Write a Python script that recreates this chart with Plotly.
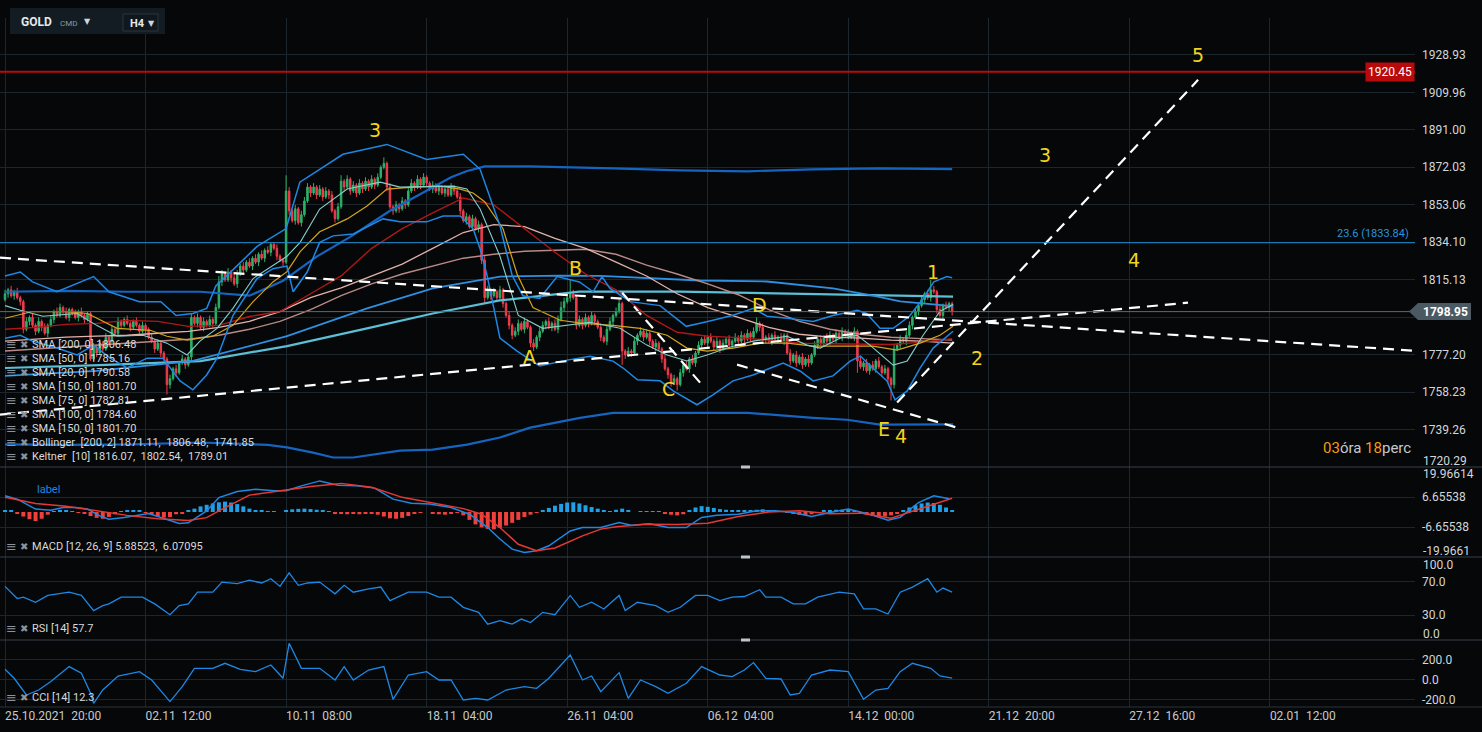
import plotly.graph_objects as go
from plotly.subplots import make_subplots

# ---------------- data ----------------
FIRST_OPEN = 1805
CLOSE = [
    1808, 1810, 1807, 1809, 1806, 1804, 1790, 1794, 1796, 1792,
    1789, 1794, 1791, 1788, 1792, 1795, 1799, 1797, 1801, 1799,
    1796, 1800, 1798, 1796, 1799, 1797, 1795, 1798, 1775, 1781,
    1778, 1783, 1780, 1786, 1784, 1790, 1788, 1794, 1792, 1795,
    1793, 1791, 1794, 1792, 1789, 1792, 1790, 1786, 1784, 1780,
    1783, 1778, 1775, 1762, 1765, 1770, 1768, 1773, 1775, 1772,
    1776, 1796, 1793, 1796, 1791, 1794, 1792, 1795, 1793, 1801,
    1814, 1818, 1815, 1819, 1816, 1813, 1818, 1822, 1820, 1824,
    1822, 1826, 1824, 1828, 1826, 1830, 1829, 1833, 1831, 1827,
    1825, 1824, 1860, 1850, 1845, 1851, 1844, 1848, 1855, 1862,
    1859, 1862, 1858, 1861, 1857, 1860, 1858, 1850, 1846, 1852,
    1865, 1862, 1866, 1860, 1863, 1859, 1864, 1861, 1865, 1862,
    1866, 1863, 1867, 1872, 1874, 1862, 1852, 1850, 1853, 1851,
    1855, 1853, 1860, 1864, 1862, 1866, 1863, 1867, 1864, 1861,
    1863, 1860, 1862, 1859, 1861, 1858, 1862, 1860, 1857, 1850,
    1845, 1847, 1842, 1846, 1841, 1843, 1825, 1806, 1810, 1807,
    1809, 1806, 1810, 1803, 1797, 1792, 1787, 1789, 1793, 1790,
    1794, 1791, 1783, 1781, 1786, 1789, 1792, 1794, 1791, 1793,
    1790, 1795, 1801, 1804, 1806, 1808, 1806, 1792, 1795, 1792,
    1796, 1793, 1797, 1794, 1791, 1786, 1784, 1790, 1794, 1797,
    1799, 1803, 1779, 1777, 1779, 1778, 1784, 1787, 1789, 1786,
    1788, 1784, 1781, 1783, 1780, 1775, 1770, 1767, 1763, 1765,
    1762, 1768, 1772, 1770, 1775, 1773, 1778, 1782, 1785, 1783,
    1786, 1784, 1781, 1784, 1780, 1783, 1785, 1782, 1784, 1786,
    1784, 1787, 1785, 1788, 1786, 1789, 1793, 1791, 1785, 1786,
    1784, 1787, 1785, 1786, 1784, 1787, 1778, 1774, 1777, 1773,
    1776, 1772, 1775, 1773, 1777, 1782, 1785, 1783, 1786, 1784,
    1787, 1785, 1788, 1786, 1789, 1787, 1788, 1786, 1789, 1774,
    1771, 1773, 1769, 1772, 1770, 1774, 1771, 1768, 1770, 1765,
    1762, 1780, 1782, 1785, 1784, 1787, 1792, 1796, 1799, 1802,
    1805, 1808, 1806, 1810, 1809, 1800, 1797, 1802, 1801, 1803,
    1799,
]
WICK_UP = [
    2, 1, 2, 1, 2, 1, 1, 2, 1, 2,  1, 2, 1, 2, 1, 2, 1, 2, 2, 1,
    2, 1, 1, 2, 1, 2, 1, 1, 1, 2,  1, 2, 1, 2, 1, 2, 1, 2, 1, 1,
    2, 1, 1, 2, 1, 2, 1, 1, 2, 1,  2, 1, 1, 1, 2, 1, 2, 1, 2, 1,
    1, 2, 1, 2, 1, 2, 1, 2, 1, 2,  3, 2, 1, 2, 1, 2, 2, 1, 2, 1,
    2, 1, 2, 1, 2, 1, 2, 1, 1, 2,  1, 1, 8, 2, 1, 2, 1, 2, 2, 2,
    1, 2, 1, 2, 1, 2, 1, 2, 1, 2,  3, 1, 2, 1, 2, 1, 2, 1, 2, 1,
    2, 1, 2, 1, 3, 1, 2, 1, 2, 1,  2, 1, 2, 2, 1, 2, 1, 2, 1, 1,
    2, 1, 2, 1, 2, 1, 2, 1, 1, 2,  1, 2, 1, 2, 1, 2, 1, 2, 2, 1,
    2, 1, 2, 1, 1, 2, 1, 2, 2, 1,  2, 1, 1, 2, 1, 2, 2, 1, 2, 1,
    2, 2, 3, 2, 2, 7, 2, 1, 2, 1,  2, 1, 2, 1, 1, 2, 1, 2, 2, 1,
    2, 2, 1, 1, 2, 1, 2, 1, 2, 1,  2, 1, 1, 2, 1, 1, 2, 1, 1, 2,
    1, 2, 1, 2, 1, 2, 1, 2, 1, 2,  1, 2, 1, 2, 1, 2, 1, 2, 1, 2,
    1, 2, 1, 2, 1, 2, 3, 1, 2, 1,  2, 1, 2, 1, 2, 1, 1, 2, 1, 2,
    1, 2, 1, 2, 1, 2, 1, 2, 1, 2,  2, 1, 2, 1, 2, 1, 2, 1, 2, 1,
    2, 1, 2, 1, 2, 1, 2, 1, 2, 1,  1, 2, 1, 2, 1, 2, 2, 1, 2, 1,
    2, 1, 2, 5, 2, 1, 2, 1, 2, 1,  1,
]
WICK_DN = [
    1, 2, 1, 2, 1, 2, 2, 1, 2, 1,  2, 1, 2, 1, 2, 1, 2, 1, 1, 2,
    1, 2, 1, 1, 2, 1, 2, 1, 1, 1,  2, 1, 2, 1, 2, 1, 2, 1, 2, 1,
    1, 2, 1, 1, 2, 1, 2, 1, 1, 2,  1, 2, 1, 5, 2, 1, 2, 1, 1, 2,
    1, 2, 1, 2, 1, 2, 1, 1, 2, 1,  1, 2, 1, 1, 2, 1, 2, 1, 2, 1,
    1, 2, 1, 2, 1, 2, 1, 2, 1, 2,  1, 2, 1, 2, 1, 2, 1, 2, 1, 1,
    2, 1, 2, 1, 2, 1, 2, 1, 2, 1,  1, 2, 1, 2, 1, 2, 1, 2, 1, 2,
    1, 2, 1, 1, 1, 2, 1, 2, 1, 2,  1, 2, 1, 1, 2, 1, 2, 1, 2, 1,
    2, 1, 2, 1, 2, 1, 1, 2, 1, 2,  1, 2, 1, 2, 1, 2, 2, 3, 1, 2,
    1, 2, 1, 2, 1, 2, 2, 1, 2, 1,  2, 1, 2, 2, 1, 2, 1, 2, 1, 2,
    1, 2, 1, 2, 1, 2, 1, 2, 1, 2,  1, 2, 1, 2, 1, 2, 1, 2, 1, 2,
    1, 1, 7, 2, 1, 2, 1, 2, 1, 2,  1, 2, 1, 2, 1, 2, 1, 2, 2, 1,
    3, 1, 2, 1, 2, 1, 2, 1, 2, 1,  2, 1, 2, 1, 2, 1, 2, 1, 2, 1,
    2, 1, 2, 1, 2, 1, 1, 2, 1, 2,  1, 2, 1, 2, 1, 2, 1, 2, 1, 2,
    1, 2, 1, 2, 1, 1, 2, 1, 2, 1,  2, 1, 2, 1, 2, 1, 2, 1, 2, 6,
    1, 2, 1, 2, 1, 2, 1, 2, 1, 2,  8, 2, 1, 2, 1, 2, 1, 2, 1, 2,
    1, 2, 1, 2, 1, 2, 1, 2, 1, 2,  2,
]

X_TICK_POS = [0, 46, 92, 138, 184, 230, 276, 322, 368, 414]
X_TICK_TEXT = ["25.10.2021\u00a0\u00a020:00", "02.11\u00a0\u00a012:00", "10.11\u00a0\u00a008:00",
               "18.11\u00a0\u00a004:00", "26.11\u00a0\u00a004:00", "06.12\u00a0\u00a004:00",
               "14.12\u00a0\u00a000:00", "21.12\u00a0\u00a020:00", "27.12\u00a0\u00a016:00",
               "02.01\u00a0\u00a012:00"]
PRICE_TICKS = [1739.26, 1758.23, 1777.20, 1796.16, 1815.13, 1834.10, 1853.06,
               1872.03, 1891.00, 1909.96, 1928.93]
HIDDEN_PRICE_TICK = 1796.16   # covered by the last-price tag in the reference

# overlay indicator lines (bar index, price)
BBU_X = [0, 20, 40, 64, 80, 91, 102, 113, 126, 137, 146, 151, 157, 172, 188, 199, 221, 243, 264, 286, 310]
BBU_Y = [1809, 1809.5, 1809, 1809, 1807, 1814.6, 1826.8, 1836.8, 1850, 1859.4, 1867, 1870, 1872.5, 1872.5,
         1872, 1871.5, 1870.5, 1870, 1871, 1871.5, 1871.1]
BBL_X = [0, 20, 42, 64, 86, 92.3, 100.8, 107.4, 114, 118.5, 129.3, 140, 151.2, 162, 171.9, 188.2, 199,
         221, 243, 264.5, 275.6, 286.4, 310.3]
BBL_Y = [1731.7, 1731.5, 1731.7, 1732.7, 1731.5, 1730.2, 1727.6, 1725.1, 1725.1, 1726.1, 1728.6, 1729.1,
         1731.6, 1735.2, 1740.2, 1745.2, 1747.7, 1747.7, 1747.7, 1745.2, 1744.2, 1741.7, 1741.85]
SMA200_X = [0, 31, 64, 92.3, 118.5, 140, 162, 188, 221, 254, 286.4, 310.3]
SMA200_Y = [1770.4, 1771.9, 1773.9, 1781.5, 1790.5, 1798, 1804.6, 1809.1, 1809.1, 1808.1, 1807.1, 1806.5]
SMA150_X = [0, 30, 61.5, 92.3, 118.5, 140, 162, 181.7, 194.8, 227.5, 249.4, 271, 284.1, 293, 310.3]
SMA150_Y = [1766.4, 1769, 1774, 1786.5, 1800.6, 1810.7, 1816.7, 1817.2, 1817, 1814.7, 1814.2, 1810.7,
            1807.1, 1804.1, 1801.7]
SMA_STEP_X = list(range(0, 311, 10))
SMA100_Y = [1779, 1780, 1781, 1782, 1783, 1784, 1785, 1787, 1790, 1794, 1800, 1807, 1813, 1818, 1822, 1826,
            1828, 1829.5, 1830, 1830.5, 1828, 1822.5, 1818, 1813, 1807.5, 1800, 1794, 1790, 1787.5, 1786,
            1785.3, 1784.6]
SMA75_Y = [1784, 1785, 1786, 1786.5, 1787, 1788, 1789, 1791, 1794, 1799, 1806, 1811, 1817, 1823, 1831, 1839,
           1843, 1842, 1836, 1831, 1824, 1817, 1808, 1801, 1796, 1791, 1787.5, 1786, 1785.5, 1784.5, 1784,
           1783]
SMA50_Y = [1790, 1791, 1792.5, 1793, 1794.5, 1794, 1791.5, 1792, 1796.5, 1799, 1808, 1817, 1831, 1841, 1849,
           1856.5, 1853, 1841, 1829, 1818, 1810, 1797, 1788.5, 1786.5, 1785.8, 1784.5, 1783, 1782.7, 1782.5,
           1782.3, 1783.5, 1785.2]
SMA20_X = [0, 9, 20, 27, 36.7, 47.5, 53, 59.6, 68, 74.6, 81.2, 87.7, 92.3, 96.6, 103, 112, 118.5, 125, 133.5,
           142.4, 149, 153.2, 157, 163, 167.6, 172.8, 181.7, 189.2, 199, 207.9, 216.7, 223.2, 229.8, 238.3,
           247.1, 256, 264.5, 275.6, 284.1, 292, 299.5, 306, 310.3]
SMA20_Y = [1795.6, 1799, 1799, 1798, 1790.5, 1789.5, 1786.5, 1784.5, 1786.5, 1792, 1804, 1814, 1819.2,
           1829.3, 1839.4, 1845.9, 1852.4, 1861, 1862, 1862.5, 1861, 1859, 1854.6, 1840.9, 1818, 1801,
           1794.6, 1793, 1792, 1790.5, 1787, 1780.5, 1779, 1780.5, 1783, 1783, 1781.5, 1781.5, 1781.5,
           1779.5, 1783, 1787, 1791.5]
KU_X = [0, 5, 9, 17, 29, 34, 44, 51, 56, 61.5, 66, 69, 75, 82.5, 92, 96.5, 103, 110.6, 125, 138, 150, 155.5,
        162, 166, 169.5, 175, 180.7, 188, 192.5, 195.4, 198, 204.6, 214.4, 223, 230, 238, 245, 249.4, 256,
        264.5, 271, 279, 282, 286.4, 290.7, 296, 300.5, 304, 308.3, 310]
KU_Y = [1817, 1819, 1814, 1809, 1816.7, 1809, 1804, 1804, 1797, 1798, 1800.6, 1812, 1820.7, 1832, 1841,
        1864.5, 1871, 1878.6, 1883.6, 1876, 1878.6, 1871, 1842.4, 1817.2, 1807, 1805.6, 1816.7, 1814, 1809,
        1816.7, 1810.7, 1804, 1802, 1791.5, 1794, 1797, 1800.6, 1796.6, 1795.6, 1794, 1797, 1799.6, 1798,
        1790.5, 1790.5, 1796.6, 1805.6, 1814, 1816.7, 1816.07]
KL_X = [0, 5, 9, 17, 23.6, 29, 34.4, 40, 46.5, 51.7, 57.3, 61.5, 66, 69.4, 74.6, 82.5, 87.7, 92.3, 94.3,
        98.9, 103, 107.4, 114, 120.5, 123.7, 129.3, 138, 143.4, 149, 153.2, 155.5, 157.8, 162, 167.6, 175,
        184, 191.5, 199, 202.3, 207, 214.4, 218.7, 226.5, 231.7, 238.3, 244.8, 254.7, 260.2, 264.5, 271,
        276.6, 280, 284, 288.7, 291.3, 295.3, 299.5, 303.8, 310.3]
KL_Y = [1785.5, 1787, 1784, 1780.5, 1777, 1782, 1775.4, 1770.4, 1775.4, 1775.4, 1763.9, 1759.4, 1766.9,
        1775.4, 1797, 1815.7, 1820.7, 1822, 1809, 1819, 1834, 1837.3, 1838.3, 1843.4, 1845.9, 1844.4,
        1844.4, 1847.4, 1847.4, 1840.9, 1830.8, 1817.2, 1785.5, 1779, 1771.4, 1774.4, 1776.4, 1773.9,
        1770.4, 1764.4, 1763.9, 1758.8, 1751.8, 1756.8, 1763.9, 1766.9, 1772.9, 1768.9, 1763.9, 1766.4,
        1773.9, 1776.4, 1770.4, 1763.9, 1754.3, 1758.8, 1770.4, 1780.5, 1789.01]
KM_X = [0, 5, 12.4, 23.6, 30, 36.7, 45.2, 53, 59.6, 63.8, 69.4, 74.6, 81.2, 92.3, 96.6, 103, 112, 122.8,
        129.3, 140, 146.6, 151.2, 155.5, 162, 168, 176, 184, 191.5, 201.3, 210.1, 216.7, 223.2, 229.8,
        236.3, 244.8, 251.4, 256, 262.5, 266.8, 273.3, 278.9, 283.1, 290.7, 295.3, 300.5, 306, 310.3]
KM_Y = [1802, 1799.6, 1796.6, 1798, 1792, 1786.5, 1787, 1783, 1777, 1784, 1790.5, 1800.6, 1815.7, 1827,
        1834, 1850.9, 1861, 1864.5, 1862, 1862.5, 1862.5, 1861, 1850.9, 1827, 1797, 1790.5, 1792, 1793.6,
        1790.5, 1782, 1777, 1774, 1777, 1780.5, 1784, 1785.5, 1786.5, 1782, 1780.5, 1785.5, 1787, 1782,
        1771.9, 1774, 1787, 1799.1, 1802.54]

# drawn analysis lines: (bar index pair, price pair)
TREND_LINES = [
    ([-1.64, 460.9], [1826.25, 1779.2]),
    ([-1.64, 387.2], [1746.8, 1803.5]),
    ([202.0, 227.5], [1808.5, 1763.0]),
    ([239.6, 312.6], [1772.1, 1739.8]),
    ([292.0, 390.5], [1752.9, 1916.3]),
]
WAVE_TEXT = ["3", "A", "B", "C", "D", "E", "4", "1", "2", "3", "4", "5"]
WAVE_X = [121.1, 171.8, 186.6, 217.0, 247.1, 287.7, 293.3, 303.6, 318.2, 340.4, 369.6, 390.5]
WAVE_Y = [1891.0, 1776.2, 1821.2, 1760.0, 1802.5, 1739.3, 1736.2, 1819.2, 1775.7, 1878.4, 1825.2, 1928.9]
RESIST_LEVEL = 1920.45
FIB_LEVEL = 1833.84
LAST_PRICE = 1798.95

# MACD panel
HIST_X = list(range(0, 311, 2))
HIST_V = [0.6, 0.5, -0.8, -2.0, -3.2, -4.0, -3.0, -1.2, 0.3, 0.6, 0.5, 0.3, -0.3, -0.8, -1.8, -2.6, -3.0,
          -2.2, -1.0, 0.2, 0.6, 0.8, 0.5, -0.3, -1.2, -2.0, -2.5, -2.2, -1.0, -0.5, 0.8, 1.5, 2.5, 3.2,
          3.8, 4.3, 4.6, 4.2, 3.5, 2.5, 1.5, 0.8, 0.5, 0.3, 0.2, 0.0, 0.8, 1.2, 1.4, 1.5, 1.3, 1.0, 0.5,
          0.2, -0.6, -0.8, -1.0, -0.8, -1.0, -0.9, -0.8, -1.2, -2.0, -2.8, -3.0, -2.6, -1.8, -0.5, -0.2,
          0.0, -0.5, -1.0, -1.2, -0.8, -0.3, -1.5, -3.5, -5.5, -6.8, -7.5, -7.7, -7.0, -6.0, -4.8, -3.5,
          -2.2, -1.2, -0.4, 0.8, 1.8, 2.8, 3.6, 4.2, 4.3, 3.8, 3.0, 2.2, 1.5, 0.8, 0.3, 1.0, 1.5, 0.6,
          0.0, 0.3, 0.3, 0.3, 0.2, -0.6, -1.2, -1.5, -1.0, 0.5, 2.0, 2.6, 2.3, 1.8, 1.3, 1.0, 0.8, 0.7,
          0.6, 0.7, 1.0, 1.2, 0.8, 0.4, 0.2, -0.3, -0.8, -1.3, -1.5, -1.0, -0.3, 0.5, 0.8, 1.0, 1.0, 0.8,
          0.3, -0.5, -1.2, -1.8, -2.0, -2.0, -1.5, -0.5, 0.8, 2.0, 3.0, 3.8, 4.2, 4.0, 3.2, 2.0, 0.5]
MACD_X = [0, 4, 10, 15, 19, 23, 27, 31, 34, 39, 47, 51, 57, 60, 66, 70, 76, 82, 88, 92, 97, 103, 109, 115,
          121, 127, 133, 139, 146, 152, 158, 162, 166, 170, 174, 178, 185, 189, 195, 201, 205, 211, 217,
          223, 228, 233, 240, 246, 252, 258, 264, 270, 276, 283, 289, 293, 299, 304, 309]
MACD_V = [7.2, 5.7, 1.3, 0.8, 2.0, 2.0, 1.3, -1.7, -3.2, -2.4, -0.7, -2.4, -5.1, -4.8, 0.5, 6.4, 9.1, 10.1,
          9.4, 9.4, 11.6, 13.8, 11.9, 11.6, 10.6, 5.7, 3.9, 3.5, 2.0, -1.0, -6.9, -12.0, -16.5, -18.0,
          -17.2, -15.0, -8.4, -6.9, -6.9, -4.7, -5.9, -5.2, -6.9, -6.9, -2.4, -1.4, -1.0, 0.5, 0.5, -0.2,
          -2.0, -0.2, 1.3, -1.0, -3.6, -2.4, 4.2, 7.2, 5.88]
SIG_X = [0, 10, 20, 30, 40, 50, 60, 66, 70, 80, 90, 100, 110, 120, 130, 140, 150, 156, 162, 168, 174, 180,
         189, 195, 200, 210, 220, 230, 240, 250, 260, 270, 280, 290, 300, 310]
SIG_V = [6.5, 3.8, 2.6, 0.5, -1.5, -3.0, -3.8, -2.5, 0.5, 7.5, 9.3, 11.3, 12.7, 11.0, 6.5, 4.0, 1.5, -1.0,
         -6.9, -14.3, -17.2, -16.0, -10.6, -7.6, -6.5, -5.4, -5.5, -5.0, -2.0, 0.0, 0.6, -0.8, -0.5, -2.8,
         1.5, 6.07]

# RSI panel
RSI_X = [0, 4, 6, 10, 14, 18, 21, 25, 29, 32, 34, 38, 45, 49, 54, 57, 60, 63, 68, 71, 76, 80, 84, 87, 90,
         93, 96, 99, 103, 108, 111, 114, 119, 123, 126, 132, 138, 142, 146, 150, 155, 158, 162, 166, 169,
         172, 176, 180, 185, 188, 192, 196, 201, 203, 207, 213, 217, 221, 226, 230, 234, 238, 242, 247, 249,
         254, 258, 262, 266, 273, 278, 281, 285, 289, 293, 297, 302, 305, 307, 310]
RSI_V = [64.6, 49.9, 51.6, 45.5, 53.7, 55.6, 57.6, 53.7, 35.4, 41.5, 43.5, 51.6, 51.6, 43.5, 30.5, 41.5,
         43.5, 57.6, 57.6, 69.8, 67.9, 72.0, 68.7, 73.9, 64.6, 80.9, 65.9, 68.7, 69.8, 55.6, 65.9, 57.6,
         61.7, 63.8, 47.5, 57.6, 57.6, 51.6, 51.6, 39.4, 33.3, 19.1, 23.2, 19.1, 25.2, 21.1, 33.3, 30.5,
         53.7, 39.4, 45.5, 37.4, 53.7, 35.4, 45.5, 41.5, 33.3, 39.4, 53.7, 53.7, 47.5, 51.6, 52.4, 60.6,
         51.6, 51.6, 43.5, 43.5, 51.6, 57.6, 55.6, 37.4, 37.4, 31.3, 57.6, 63.8, 73.9, 57.6, 62.6, 57.7]

# CCI panel
CCI_X = [0, 3, 7, 11, 15, 21, 25, 28, 29, 32, 37, 44, 48, 54, 58, 62, 68, 72, 77, 82, 87, 91, 93, 97, 103,
         108, 111, 114, 119, 124, 127, 132, 138, 142, 146, 150, 154, 158, 164, 170, 174, 178, 185, 189, 192,
         195, 201, 204, 208, 213, 217, 223, 228, 234, 238, 242, 245, 249, 254, 257, 260, 264, 270, 276, 281,
         285, 289, 293, 297, 303, 306, 310]
CCI_V = [100, 10, -157, -107, -23, 127, 60, -140, -240, -107, 33, 77, -7, -223, -73, 110, 110, 160, 100, 77,
         143, 10, 360, 110, 110, -7, 127, -7, 93, 127, -200, 43, 77, -7, -7, -207, -190, -207, -107, -73,
         -90, 10, 243, -7, 33, -123, 67, -190, -7, -73, -140, -40, 127, 43, 27, 93, 167, 10, 3, -157, -140,
         43, 93, 77, -200, -107, -90, 77, 160, 110, 33, 12.3]

LEGEND_LINES = ["SMA [200, 0] 1806.48", "SMA [50, 0] 1785.16", "SMA [20, 0] 1790.58",
                "SMA [150, 0] 1801.70", "SMA [75, 0] 1782.81", "SMA [100, 0] 1784.60",
                "SMA [150, 0] 1801.70",
                "Bollinger\u00a0\u00a0[200, 2] 1871.11,\u00a0\u00a01806.48,\u00a0\u00a01741.85",
                "Keltner\u00a0\u00a0[10] 1816.07,\u00a0\u00a01802.54,\u00a0\u00a01789.01"]
PANEL_LABELS = ["MACD [12, 26, 9] 5.88523,\u00a0\u00a06.07095", "RSI [14] 57.7", "CCI [14] 12.3"]

# ---------------- derived candle fields ----------------
BAR_INDEX = list(range(len(CLOSE)))
OPEN = [FIRST_OPEN] + CLOSE[:-1]
HIGH = [max(o, c) + w for o, c, w in zip(OPEN, CLOSE, WICK_UP)]
LOW = [min(o, c) - w for o, c, w in zip(OPEN, CLOSE, WICK_DN)]

# ---------------- layout geometry ----------------
W, H = 1482, 732
ML, MR, MT, MB = 0, 67, 18, 25
PW, PH = W - ML - MR, H - MT - MB


def fx(px):
    return (px - ML) / PW


def fy(py):
    return (MT + PH - py) / PH


DOM_MAIN = [fy(467), 1.0]
DOM_MACD = [fy(557), fy(467)]
DOM_RSI = [fy(640), fy(557)]
DOM_CCI = [0.0, fy(640)]
X_RANGE = [-1.64, 461.5]
MAIN_RANGE = [1720.29, 1947.6]


def main_paper_y(p):
    return DOM_MAIN[0] + (p - MAIN_RANGE[0]) / (MAIN_RANGE[1] - MAIN_RANGE[0]) * (DOM_MAIN[1] - DOM_MAIN[0])


BG = "#060708"
GRID = "#1d262d"
SEP = "#35414b"
TXT = "#d2d6da"
GREEN = "#2db26a"
RED = "#f23c4e"
BLUE = "#1e88e5"
FONT = "Roboto"

fig = make_subplots(rows=4, cols=1, shared_xaxes=True, vertical_spacing=0)


def line(x, y, color, width, row=1, dash=None):
    fig.add_trace(go.Scatter(x=x, y=y, mode="lines", hoverinfo="skip",
                             line=dict(color=color, width=width, dash=dash)), row=row, col=1)


# overlays
line(BBU_X, BBU_Y, "#1565c0", 2.2)
line(BBL_X, BBL_Y, "#1565c0", 2.2)
line(SMA200_X, SMA200_Y, "#5bbfd6", 2.2)
line(SMA150_X, SMA150_Y, "#2f8fe0", 1.8)
line(SMA_STEP_X, SMA100_Y, "#b98a86", 1.4)
line(SMA_STEP_X, SMA75_Y, "#e3b2ab", 1.3)
line(SMA_STEP_X, SMA50_Y, "#b01818", 1.4)
line(SMA20_X, SMA20_Y, "#d4a51c", 1.2)
line(KM_X, KM_Y, "#86d0cb", 1.1)
line(KU_X, KU_Y, "#1e88e5", 1.5)
line(KL_X, KL_Y, "#1e88e5", 1.5)

fig.add_trace(go.Candlestick(
    x=BAR_INDEX, open=OPEN, high=HIGH, low=LOW, close=CLOSE, whiskerwidth=0, hoverinfo="skip",
    increasing=dict(line=dict(color=GREEN, width=1), fillcolor=GREEN),
    decreasing=dict(line=dict(color=RED, width=1), fillcolor=RED)), row=1, col=1)

for tx, ty in TREND_LINES:
    line(tx, ty, "#ffffff", 2.2, dash="11px,7px")

# MACD
fig.add_trace(go.Bar(x=HIST_X, y=HIST_V, width=1.3, hoverinfo="skip",
                     marker=dict(color=["#1f9fe8" if v >= 0 else "#f0403c" for v in HIST_V], line=dict(width=0))),
              row=2, col=1)
line(MACD_X, MACD_V, "#1e88e5", 1.5, row=2)
line(SIG_X, SIG_V, "#e53935", 1.5, row=2)
# RSI / CCI
line(RSI_X, RSI_V, BLUE, 1.3, row=3)
line(CCI_X, CCI_V, BLUE, 1.3, row=4)

# horizontal reference levels
fig.add_hline(y=RESIST_LEVEL, line=dict(color="#b50d0d", width=2), row=1, col=1)
fig.add_hline(y=FIB_LEVEL, line=dict(color="#1f8fd6", width=1), row=1, col=1)
fig.add_hline(y=LAST_PRICE, line=dict(color="#5d6b76", width=1), row=1, col=1)

tickfont = dict(family=FONT, size=12, color=TXT)
axis_common = dict(showline=False, zeroline=False, ticks="", gridcolor=GRID, gridwidth=1, fixedrange=True,
                   automargin=False)

for r in range(1, 5):
    fig.update_xaxes(range=X_RANGE, tickvals=X_TICK_POS, ticktext=X_TICK_TEXT, showgrid=True,
                     showticklabels=(r == 4), tickfont=dict(family=FONT, size=12, color="#c6cacd"),
                     ticklabelposition="outside right", rangeslider=dict(visible=False),
                     row=r, col=1, **axis_common)

fig.update_yaxes(row=1, col=1, side="right", range=MAIN_RANGE, tickvals=PRICE_TICKS,
                 ticktext=["" if v == HIDDEN_PRICE_TICK else f"{v:.2f}" for v in PRICE_TICKS],
                 tickfont=tickfont, domain=DOM_MAIN, ticklabelstandoff=6, **axis_common)
fig.update_yaxes(row=2, col=1, side="right", range=[-19.96614, 19.96614], tickvals=[-6.65538, 6.65538],
                 ticktext=["-6.65538", "6.65538"], tickfont=tickfont, domain=DOM_MACD,
                 ticklabelstandoff=6, **axis_common)
fig.update_yaxes(row=3, col=1, side="right", range=[0, 100], tickvals=[30, 70],
                 ticktext=["30.0", "70.0"], tickfont=tickfont, domain=DOM_RSI,
                 ticklabelstandoff=6, **axis_common)
fig.update_yaxes(row=4, col=1, side="right", range=[-277, 393], tickvals=[-200, 0, 200],
                 ticktext=["-200.0", "0.0", "200.0"], tickfont=tickfont, domain=DOM_CCI,
                 ticklabelstandoff=6, **axis_common)

shapes = []
# panel separators
for py, col in [(467, SEP), (557, SEP), (640, SEP), (707, "#2a343c")]:
    shapes.append(dict(type="line", xref="paper", yref="paper", x0=0, x1=fx(W), y0=fy(py), y1=fy(py),
                       line=dict(color=col, width=1.2)))
# small drag handles
for py in (467, 557, 640):
    shapes.append(dict(type="rect", xref="paper", yref="paper", x0=fx(741), x1=fx(750), y0=fy(py + 1.5),
                       y1=fy(py - 1.5), fillcolor="#bfc4c8", line=dict(width=0)))
# symbol box
shapes.append(dict(type="rect", xref="paper", yref="paper", x0=fx(10), x1=fx(165), y0=fy(34), y1=fy(8),
                   fillcolor="#121c22", line=dict(width=0)))
shapes.append(dict(type="rect", xref="paper", yref="paper", x0=fx(123), x1=fx(158), y0=fy(31), y1=fy(14),
                   fillcolor="#10181d", line=dict(color="#2a353c", width=1)))
# last price tag
yc = main_paper_y(LAST_PRICE)
dy = 8.5 / PH
shapes.append(dict(type="path", xref="paper", yref="paper", fillcolor="#4b5963", line=dict(width=0),
                   path=f"M {fx(1409)} {yc} L {fx(1418)} {yc + dy} L {fx(1471)} {yc + dy} "
                        f"L {fx(1471)} {yc - dy} L {fx(1418)} {yc - dy} Z"))
fig.update_layout(shapes=fig.layout.shapes + tuple(shapes))


def pann(text, px, py, font, xanchor="left"):
    return dict(text=text, x=fx(px), y=fy(py), xref="paper", yref="paper", xanchor=xanchor,
                yanchor="middle", showarrow=False, font=font)


ann = []
for t, x, y in zip(WAVE_TEXT, WAVE_X, WAVE_Y):
    ann.append(dict(text=t, x=x, y=y, xref="x", yref="y", xanchor="center", yanchor="middle",
                    showarrow=False, font=dict(family="DejaVu Sans", size=19, color="#f3d41c")))
# price tags
ann.append(dict(text="1920.45", x=1.0, y=RESIST_LEVEL, xref="paper", yref="y", xanchor="right",
                yanchor="middle", showarrow=False, bgcolor="#b80a0a", borderpad=2,
                font=dict(family=FONT, size=12, color="#ffffff")))
ann.append(dict(text="<b>1798.95</b>", x=fx(1421), y=yc, xref="paper", yref="paper", xanchor="left",
                yanchor="middle", showarrow=False, font=dict(family=FONT, size=12, color="#ffffff")))
ann.append(dict(text="23.6 (1833.84)", x=fx(1411), y=FIB_LEVEL, xref="paper", yref="y", xanchor="right",
                yanchor="bottom", yshift=1, showarrow=False, font=dict(family=FONT, size=11, color="#2a93dc")))
ann.append(pann("<span style='color:#f39c12'>03</span>óra <span style='color:#f39c12'>18</span>perc",
                1413, 448, dict(family=FONT, size=15, color="#c5c9cc"), xanchor="right"))
# edge value labels
for txt, py in [("1720.29", 461), ("19.96614", 474), ("-19.9661", 551), ("100.0", 565), ("0.0", 634)]:
    ann.append(pann(txt, 1421, py, tickfont))
# legend rows
ICON = dict(family="DejaVu Sans", size=13, color="#8c9398")
XICON = dict(family="DejaVu Sans", size=10, color="#8c9398")
LEG = dict(family=FONT, size=11, color="#d8dadc")
rows = [(txt, 344 + 14.1 * k) for k, txt in enumerate(LEGEND_LINES)]
rows += list(zip(PANEL_LABELS, [546, 628, 697]))
for txt, py in rows:
    ann.append(pann("≡", 11, py, ICON, xanchor="center"))
    ann.append(pann("✖", 23.5, py, XICON, xanchor="center"))
    ann.append(pann(txt, 30, py, LEG))
ann.append(pann("label", 35, 489, dict(family=FONT, size=11, color=BLUE)))
# symbol box texts
ann.append(pann("<b>GOLD</b>", 19, 22, dict(family=FONT, size=12, color="#e6e9eb")))
ann.append(pann("CMD", 58, 23.5, dict(family=FONT, size=8, color="#8e999f")))
ann.append(pann("▼", 87, 21.5, dict(family="DejaVu Sans", size=8, color="#d0d6da"), xanchor="center"))
ann.append(pann("<b>H4</b>", 128, 23, dict(family=FONT, size=11, color="#e6e9eb")))
ann.append(pann("▼", 151, 23.5, dict(family="DejaVu Sans", size=8, color="#d0d6da"), xanchor="center"))

fig.update_layout(
    width=W, height=H, margin=dict(l=ML, r=MR, t=MT, b=MB, autoexpand=False),
    paper_bgcolor=BG, plot_bgcolor=BG, showlegend=False, hovermode=False, dragmode=False,
    annotations=list(fig.layout.annotations) + ann,
    font=dict(family=FONT, color=TXT),
)

fig.write_html("out.html", config={"displayModeBar": False},
               post_script="document.body.style.margin='0';document.body.style.overflow='hidden';")
